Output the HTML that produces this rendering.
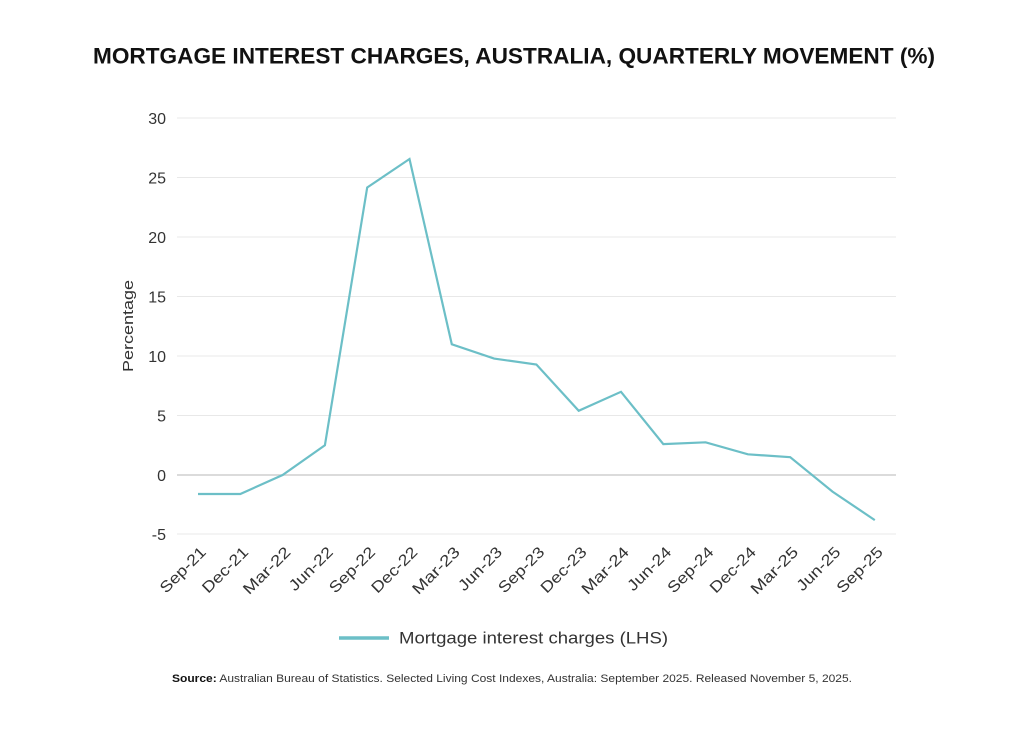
<!DOCTYPE html>
<html>
<head>
<meta charset="utf-8">
<style>
html,body{margin:0;padding:0;background:#fff;}
svg{display:block;}
text{font-family:"Liberation Sans",sans-serif;}
</style>
</head>
<body>
<svg width="1024" height="739" viewBox="0 0 1024 739" xmlns="http://www.w3.org/2000/svg">
<rect width="1024" height="739" fill="#fff"/>
<text x="93" y="63.5" font-size="22" font-weight="bold" fill="#111" textLength="842" lengthAdjust="spacingAndGlyphs">MORTGAGE INTEREST CHARGES, AUSTRALIA, QUARTERLY MOVEMENT (%)</text>

<g stroke="#e8e8e8" stroke-width="1">
<line x1="177" y1="118" x2="896" y2="118"/>
<line x1="177" y1="177.5" x2="896" y2="177.5"/>
<line x1="177" y1="237" x2="896" y2="237"/>
<line x1="177" y1="296.5" x2="896" y2="296.5"/>
<line x1="177" y1="356" x2="896" y2="356"/>
<line x1="177" y1="415.5" x2="896" y2="415.5"/>
<line x1="177" y1="534" x2="896" y2="534"/>
</g>
<line x1="177" y1="475" x2="896" y2="475" stroke="#cfcfcf" stroke-width="1.5"/>

<g font-size="16" fill="#333" text-anchor="end">
<text x="166" y="124">30</text>
<text x="166" y="183.5">25</text>
<text x="166" y="243">20</text>
<text x="166" y="302.5">15</text>
<text x="166" y="362">10</text>
<text x="166" y="421.5">5</text>
<text x="166" y="481">0</text>
<text x="166" y="540">-5</text>
</g>

<text transform="translate(133,326) rotate(-90)" font-size="15" fill="#333" text-anchor="middle" textLength="92" lengthAdjust="spacingAndGlyphs">Percentage</text>

<polyline fill="none" stroke="#6cbfc7" stroke-width="2.2" stroke-linejoin="miter" points="198,494 240.3,494 282.6,475 324.9,445.3 367.2,187.5 409.5,159 451.8,344.3 494.1,358.6 536.4,364.5 578.7,410.8 621,391.8 663.3,444.1 705.6,442.3 747.9,454.3 790.2,457.2 832.5,491.6 874.8,520.1"/>

<g font-size="15.5" fill="#333" text-anchor="end">
<text transform="translate(207,553) rotate(-45)" textLength="58" lengthAdjust="spacingAndGlyphs">Sep-21</text>
<text transform="translate(249.3,553) rotate(-45)" textLength="58" lengthAdjust="spacingAndGlyphs">Dec-21</text>
<text transform="translate(291.6,553) rotate(-45)" textLength="60" lengthAdjust="spacingAndGlyphs">Mar-22</text>
<text transform="translate(333.9,553) rotate(-45)" textLength="55" lengthAdjust="spacingAndGlyphs">Jun-22</text>
<text transform="translate(376.2,553) rotate(-45)" textLength="58" lengthAdjust="spacingAndGlyphs">Sep-22</text>
<text transform="translate(418.5,553) rotate(-45)" textLength="58" lengthAdjust="spacingAndGlyphs">Dec-22</text>
<text transform="translate(460.8,553) rotate(-45)" textLength="60" lengthAdjust="spacingAndGlyphs">Mar-23</text>
<text transform="translate(503.1,553) rotate(-45)" textLength="55" lengthAdjust="spacingAndGlyphs">Jun-23</text>
<text transform="translate(545.4,553) rotate(-45)" textLength="58" lengthAdjust="spacingAndGlyphs">Sep-23</text>
<text transform="translate(587.7,553) rotate(-45)" textLength="58" lengthAdjust="spacingAndGlyphs">Dec-23</text>
<text transform="translate(630,553) rotate(-45)" textLength="60" lengthAdjust="spacingAndGlyphs">Mar-24</text>
<text transform="translate(672.3,553) rotate(-45)" textLength="55" lengthAdjust="spacingAndGlyphs">Jun-24</text>
<text transform="translate(714.6,553) rotate(-45)" textLength="58" lengthAdjust="spacingAndGlyphs">Sep-24</text>
<text transform="translate(756.9,553) rotate(-45)" textLength="58" lengthAdjust="spacingAndGlyphs">Dec-24</text>
<text transform="translate(799.2,553) rotate(-45)" textLength="60" lengthAdjust="spacingAndGlyphs">Mar-25</text>
<text transform="translate(841.5,553) rotate(-45)" textLength="55" lengthAdjust="spacingAndGlyphs">Jun-25</text>
<text transform="translate(883.8,553) rotate(-45)" textLength="58" lengthAdjust="spacingAndGlyphs">Sep-25</text>
</g>

<line x1="339" y1="638" x2="389" y2="638" stroke="#6cbfc7" stroke-width="3.5"/>
<text x="399" y="643.5" font-size="16.5" fill="#333" textLength="269" lengthAdjust="spacingAndGlyphs">Mortgage interest charges (LHS)</text>

<text x="172" y="682" font-size="11" fill="#333" textLength="680" lengthAdjust="spacingAndGlyphs"><tspan font-weight="bold" fill="#111">Source:</tspan>  Australian Bureau of Statistics. Selected Living Cost Indexes, Australia: September 2025. Released November 5, 2025.</text>
</svg>
</body>
</html>
